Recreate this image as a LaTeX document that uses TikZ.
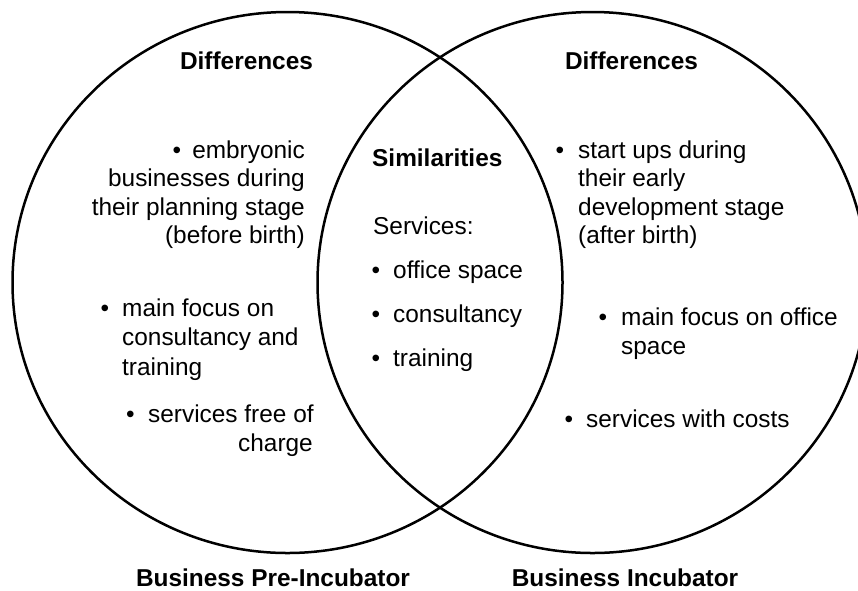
\documentclass[tikz,border=0pt]{standalone}
\usepackage{fontspec}
\setmainfont{Liberation Sans}
\newcommand{\bodyfont}{\fontsize{24.4}{29}\selectfont}
\begin{document}
\begin{tikzpicture}[x=1pt,y=-1pt,
  ring/.style={line width=2.5pt},
  txt/.style={inner sep=0pt, font=\bodyfont, anchor=base west},
  txtr/.style={txt, anchor=base east},
  hd/.style={inner sep=0pt, font=\bodyfont\bfseries, anchor=base},
  hdw/.style={hd, anchor=base west},
  bul/.style={inner sep=0pt, font=\bodyfont, anchor=base}]
\useasboundingbox (0,0) rectangle (858,590);
\clip (0,0) rectangle (858,590);
% circles
\draw[ring] (287.5,282.5) ellipse [x radius=275pt, y radius=270.5pt];
\draw[ring] (592.5,282.5) ellipse [x radius=275pt, y radius=270.5pt];
% headings
\node[hd] (dl) at (246.5,69) {Differences};
\node[hd] (dr) at (631.5,69) {Differences};
\node[hdw] (sim) at (372,166) {Similarities};
\node[hd] (lpre) at (273,586) {Business Pre-Incubator};
\node[hd] (linc) at (625,586) {Business Incubator};
% left block 1
\node[bul] (bl1) at (177,158) {\textbullet};
\node[txtr] (l1a) at (305,158) {embryonic};
\node[txtr] (l1b) at (305,186.5) {businesses during};
\node[txtr] (l1c) at (305,215) {their planning stage};
\node[txtr] (l1d) at (305,243.5) {(before birth)};
% left block 2
\node[bul] (bl2) at (105,316) {\textbullet};
\node[txt] (l2a) at (122,316) {main focus on};
\node[txt] (l2b) at (122,345.5) {consultancy and};
\node[txt] (l2c) at (122,375) {training};
% left block 3
\node[bul] (bl3) at (130.5,422) {\textbullet};
\node[txt] (l3a) at (148,422) {services free of};
\node[txtr] (l3b) at (313,451) {charge};
% center
\node[txt] (serv) at (373,234) {Services:};
\node[bul] (bc1) at (376,278) {\textbullet};
\node[txt] (c1) at (393,278) {office space};
\node[bul] (bc2) at (376,322) {\textbullet};
\node[txt] (c2) at (393,322) {consultancy};
\node[bul] (bc3) at (376,366) {\textbullet};
\node[txt] (c3) at (393,366) {training};
% right block 1
\node[bul] (br1) at (560,158) {\textbullet};
\node[txt] (r1a) at (578,158) {start ups during};
\node[txt] (r1b) at (578,186.5) {their early};
\node[txt] (r1c) at (578,215) {development stage};
\node[txt] (r1d) at (578,243.5) {(after birth)};
% right block 2
\node[bul] (br2) at (603,325) {\textbullet};
\node[txt] (r2a) at (621,325) {main focus on office};
\node[txt] (r2b) at (621,354) {space};
% right block 3
\node[bul] (br3) at (569,427) {\textbullet};
\node[txt] (r3a) at (586,427) {services with costs};
\end{tikzpicture}
\end{document}
